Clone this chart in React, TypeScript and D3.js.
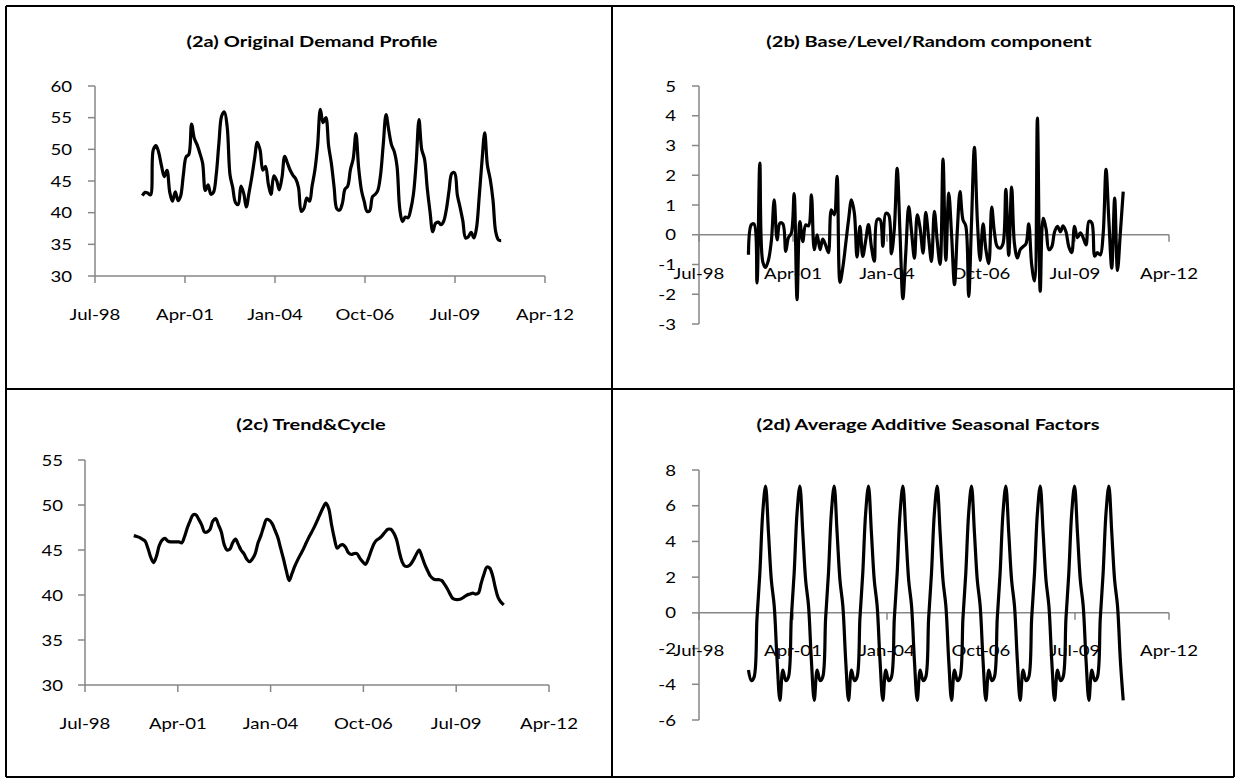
import React from 'react';
import * as d3 from 'd3';

// monthly series, Jan 2000 .. Dec 2010
const demand = [
  42.7, 43.2, 43.1, 42.8, 49.9, 50.6, 49.5, 47.4, 45.7, 46.7, 43.2, 41.8,
  43.3, 41.9, 42.6, 46.0, 48.8, 49.2, 54.0, 51.7, 50.7, 49.4, 47.8, 43.5,
  44.4, 42.9, 43.2, 46.0, 51.0, 55.3, 55.9, 53.5, 46.0, 44.0, 41.6, 41.3,
  44.2, 43.0, 40.9, 43.2, 45.6, 48.5, 51.1, 49.9, 46.7, 47.3, 44.5, 42.9,
  45.8, 45.1, 43.6, 45.6, 48.9, 47.8, 46.7, 45.9, 45.3, 44.0, 40.2, 40.7,
  42.3, 41.8, 44.2, 46.7, 50.5, 56.3, 54.2, 55.0, 50.5, 47.8, 44.0, 40.6,
  40.4, 41.5, 43.7, 44.2, 46.8, 48.5, 52.5, 47.0, 43.5, 41.8, 40.2, 40.3,
  42.5, 42.9, 43.5, 46.0, 50.8, 55.5, 53.0, 50.7, 49.6, 47.3, 40.5, 38.6,
  39.3, 39.2, 40.5, 43.0, 48.0, 54.7, 50.0, 48.5, 43.8, 40.2, 37.0, 38.3,
  38.5, 38.1, 38.6, 40.5, 43.5, 46.2, 46.3, 42.8, 40.8, 38.7, 36.0, 36.2,
  36.9, 36.0, 37.5, 42.5, 48.0, 52.6, 47.5, 45.3, 42.0, 37.0, 35.7, 35.6,
];

const randomPart = [
  -0.67, 0.34, 0.36, -1.62, 2.41, -0.9, -1.1, -0.85, -0.2, 1.17, -0.17, 0.39,
  0.37, -0.56, -0.1, 0.05, 1.38, -2.18, 0.44, -0.23, 0.33, 0.3, 1.34, -0.5,
  0.0, -0.5, -0.15, -0.35, -0.6, 0.84, 0.67, 1.96, -1.6, -1.1, -0.3, 0.5,
  1.17, 0.72, -0.75, 0.28, -0.73, -0.2, 0.34, -0.4, -0.89, 0.51, 0.51, -0.39,
  0.72, 0.67, -0.64, 0.2, 2.23, 0.0, -2.15, -0.6, 0.95, 0.1, -0.79, 0.67,
  0.2, -0.62, 0.75, -0.1, -0.9, 0.79, -0.2, -1.0, 2.54, -0.86, 1.4, 0.0,
  -1.68, 0.2, 1.45, 0.5, 0.3, -2.07, 0.4, 2.94, 0.5, -0.86, 0.37, -0.5,
  -0.97, 0.93, 0.1, -0.4, -0.45, -0.3, 1.53, -0.7, 1.6, -0.3, -0.78, -0.5,
  -0.4, -0.3, 0.37, -1.0, -1.55, 3.92, -1.9, 0.55, 0.2, -0.5, -0.4, 0.1,
  0.28, 0.1, 0.3, 0.1, -0.4, -0.6, 0.28, -0.1, 0.06, -0.1, -0.34, 0.45,
  0.4, -0.72, -0.6, -0.68, 0.0, 2.2, 0.5, -1.12, 1.23, -1.2, 0.1, 1.45,
];

const trend = [
  46.6, 46.5, 46.4, 46.2, 46.0, 45.2, 44.2, 43.6, 44.3, 45.5, 46.1, 46.3,
  46.0, 45.9, 45.9, 45.9, 45.9, 45.8, 46.5, 47.5, 48.3, 48.9, 48.9, 48.4,
  47.8, 47.0, 47.0, 47.3, 48.2, 48.5, 47.8, 47.0, 45.6, 45.0, 45.1, 45.8,
  46.2, 45.6, 45.0, 44.6, 44.0, 43.7, 44.0, 44.6, 45.8, 46.6, 47.6, 48.4,
  48.3, 47.9, 47.2, 46.4, 45.2, 44.0, 42.7, 41.6, 42.4, 43.2, 43.9, 44.5,
  45.1, 45.8, 46.4, 47.0, 47.6, 48.3, 49.0, 49.7, 50.2, 49.6, 47.8, 46.3,
  45.2, 45.5, 45.6, 45.3, 44.7, 44.5, 44.6, 44.6, 44.1, 43.7, 43.4, 44.0,
  44.9, 45.7, 46.1, 46.3, 46.6, 47.0, 47.3, 47.3, 46.9, 46.2, 44.8, 43.7,
  43.2, 43.2, 43.4, 43.9, 44.5, 45.0, 44.3, 43.4, 42.7, 42.1, 41.8, 41.7,
  41.7, 41.6, 41.2, 40.7, 40.1, 39.6, 39.5, 39.5, 39.6, 39.8, 40.0, 40.1,
  40.2, 40.1, 40.2, 41.3, 42.3, 43.1, 43.0, 42.2, 40.8, 39.7, 39.2, 38.9,
];

const seasonal = [
  -3.2, -3.8, -3.6, -0.3, 2.2, 5.6, 7.1, 4.5, 1.8, 0.4, -2.7, -4.9,
  -3.2, -3.8, -3.6, -0.3, 2.2, 5.6, 7.1, 4.5, 1.8, 0.4, -2.7, -4.9,
  -3.2, -3.8, -3.6, -0.3, 2.2, 5.6, 7.1, 4.5, 1.8, 0.4, -2.7, -4.9,
  -3.2, -3.8, -3.6, -0.3, 2.2, 5.6, 7.1, 4.5, 1.8, 0.4, -2.7, -4.9,
  -3.2, -3.8, -3.6, -0.3, 2.2, 5.6, 7.1, 4.5, 1.8, 0.4, -2.7, -4.9,
  -3.2, -3.8, -3.6, -0.3, 2.2, 5.6, 7.1, 4.5, 1.8, 0.4, -2.7, -4.9,
  -3.2, -3.8, -3.6, -0.3, 2.2, 5.6, 7.1, 4.5, 1.8, 0.4, -2.7, -4.9,
  -3.2, -3.8, -3.6, -0.3, 2.2, 5.6, 7.1, 4.5, 1.8, 0.4, -2.7, -4.9,
  -3.2, -3.8, -3.6, -0.3, 2.2, 5.6, 7.1, 4.5, 1.8, 0.4, -2.7, -4.9,
  -3.2, -3.8, -3.6, -0.3, 2.2, 5.6, 7.1, 4.5, 1.8, 0.4, -2.7, -4.9,
  -3.2, -3.8, -3.6, -0.3, 2.2, 5.6, 7.1, 4.5, 1.8, 0.4, -2.7, -4.9,
];

// excel date axis: serial numbers every 1000 days
const xTickSerials = [36000, 37000, 38000, 39000, 40000, 41000];
const xTickLabels = ['Jul-98', 'Apr-01', 'Jan-04', 'Oct-06', 'Jul-09', 'Apr-12'];

const excelDate = (s: number) => new Date(Date.UTC(1899, 11, 30) + s * 86400000);
const months = d3.utcMonth.range(new Date(Date.UTC(2000, 0, 1)), new Date(Date.UTC(2011, 0, 1)));

const FONT = 'Lato, Carlito, Calibri, sans-serif';
const AXIS = '#878787';
const TICK_STRETCH = 1.2;
const TITLE_STRETCH = 1.25;

type PanelProps = {
  title: string;
  values: number[];
  yTicks: number[];
  x0: number;
  x1: number;
  yTop: number;
  yBottom: number;
  base: number;
  titleX: number;
  titleY: number;
  yLabelX: number;
  xLabelY: number;
};

function Panel(p: PanelProps) {
  const x = d3.scaleUtc()
    .domain([excelDate(xTickSerials[0]), excelDate(xTickSerials[xTickSerials.length - 1])])
    .range([p.x0, p.x1]);
  const y = d3.scaleLinear()
    .domain([p.yTicks[0], p.yTicks[p.yTicks.length - 1]])
    .range([p.yBottom, p.yTop]);

  const line = d3.line<number>()
    .x((_, i) => x(months[i]))
    .y(d => y(d))
    .curve(d3.curveCatmullRom.alpha(0.5));

  const axisY = y(p.base);

  return (
    <g>
      <text
        transform={`translate(${p.titleX},${p.titleY}) scale(${TITLE_STRETCH},1)`}
        textAnchor="middle" fontFamily={FONT} fontWeight="bold" fontSize={16} fill="#000">
        {p.title}
      </text>

      {/* y axis */}
      <line x1={p.x0} x2={p.x0} y1={y(p.yTicks[0])} y2={y(p.yTicks[p.yTicks.length - 1])} stroke={AXIS} strokeWidth={1.5} />
      {p.yTicks.map(t => (
        <g key={t}>
          <line x1={p.x0 - 7} x2={p.x0} y1={y(t)} y2={y(t)} stroke={AXIS} strokeWidth={1.5} />
          <text
            transform={`translate(${p.yLabelX},${y(t)}) scale(${TICK_STRETCH},1)`}
            textAnchor="end" dy="0.36em" fontFamily={FONT} fontSize={15.5} fill="#000">
            {t}
          </text>
        </g>
      ))}

      {/* x axis */}
      <line x1={p.x0} x2={p.x1} y1={axisY} y2={axisY} stroke={AXIS} strokeWidth={1.5} />
      {xTickSerials.map((s, i) => (
        <g key={s}>
          <line x1={x(excelDate(s))} x2={x(excelDate(s))} y1={axisY} y2={axisY + 7} stroke={AXIS} strokeWidth={1.5} />
          <text
            transform={`translate(${x(excelDate(s))},${p.xLabelY}) scale(${TICK_STRETCH},1)`}
            textAnchor="middle" fontFamily={FONT} fontSize={15.5} fill="#000">
            {xTickLabels[i]}
          </text>
        </g>
      ))}

      <path d={line(p.values) || ''} fill="none" stroke="#000" strokeWidth={3.2} strokeLinejoin="round" />
    </g>
  );
}

export default function App() {
  return (
    <svg width={1240} height={783} style={{ position: 'absolute', left: 0, top: 0, background: '#fff' }}>
      <rect x={0} y={0} width={1240} height={783} fill="#fff" />

      <Panel title="(2a) Original Demand Profile" values={demand} yTicks={[30, 35, 40, 45, 50, 55, 60]}
        x0={95} x1={545} yTop={86} yBottom={276} base={30}
        titleX={312} titleY={47} yLabelX={72} xLabelY={320} />
      <Panel title="(2b) Base/Level/Random component" values={randomPart} yTicks={[-3, -2, -1, 0, 1, 2, 3, 4, 5]}
        x0={699} x1={1169} yTop={86} yBottom={324} base={0}
        titleX={929} titleY={47} yLabelX={676} xLabelY={279} />
      <Panel title="(2c) Trend&Cycle" values={trend} yTicks={[30, 35, 40, 45, 50, 55]}
        x0={85} x1={549} yTop={460} yBottom={685} base={30}
        titleX={311} titleY={430} yLabelX={63} xLabelY={729} />
      <Panel title="(2d) Average Additive Seasonal Factors" values={seasonal} yTicks={[-6, -4, -2, 0, 2, 4, 6, 8]}
        x0={699} x1={1169} yTop={470} yBottom={720} base={0}
        titleX={928} titleY={430} yLabelX={676} xLabelY={656} />

      {/* table borders */}
      <g stroke="#000" strokeWidth={2}>
        <line x1={6} x2={1234} y1={6} y2={6} />
        <line x1={6} x2={1234} y1={777} y2={777} />
        <line x1={6} x2={6} y1={6} y2={777} />
        <line x1={1234} x2={1234} y1={6} y2={777} />
        <line x1={612} x2={612} y1={6} y2={777} />
        <line x1={6} x2={1234} y1={389} y2={389} />
      </g>
    </svg>
  );
}
